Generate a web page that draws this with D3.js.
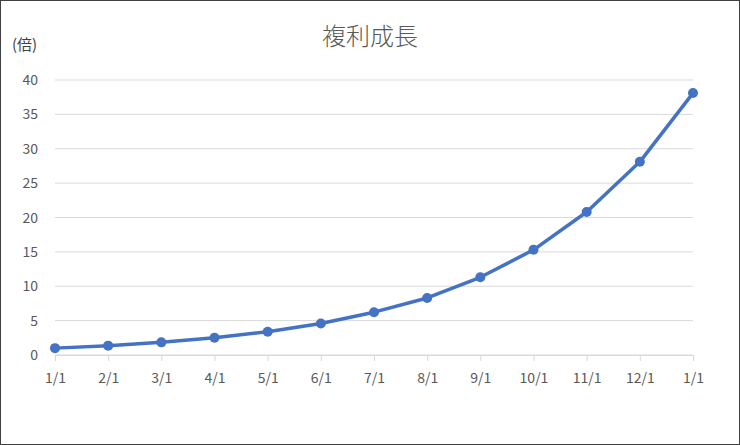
<!DOCTYPE html>
<html><head><meta charset="utf-8">
<script src="https://cdn.jsdelivr.net/npm/d3@7"></script>
<style>body{margin:0;background:#fff}</style>
</head><body>
<svg id="chart" width="740" height="445"></svg>
<script>
const labels = ["1/1","2/1","3/1","4/1","5/1","6/1","7/1","8/1","9/1","10/1","11/1","12/1","1/1 "];
const values = [1.0, 1.36, 1.84, 2.50, 3.39, 4.59, 6.23, 8.3, 11.3, 15.3, 20.8, 28.1, 38.1];
const yTicks = [0,5,10,15,20,25,30,35,40];

const svg = d3.select("#chart");
const font = "'Noto Sans CJK JP', 'Noto Sans', sans-serif";
svg.append("rect").attr("x",0.5).attr("y",0.5).attr("width",739).attr("height",444)
  .attr("fill","#fff").attr("stroke","#404040").attr("stroke-width",1);

const x = d3.scalePoint().domain(labels).range([55,693]);
const y = d3.scaleLinear().domain([0,40]).range([355,80]);

svg.append("g").selectAll("line").data(yTicks).join("line")
  .attr("x1",55).attr("x2",693).attr("y1",d=>y(d)).attr("y2",d=>y(d))
  .attr("stroke","#d9d9d9").attr("stroke-width",1);

svg.append("g").selectAll("text").data(yTicks).join("text")
  .attr("x",38).attr("y",d=>y(d)+5).attr("text-anchor","end")
  .attr("font-family",font).attr("font-size",14).attr("fill","#595959").text(d=>d);

const xa = svg.append("g").attr("transform","translate(0,355)")
  .call(d3.axisBottom(x).tickSize(6).tickPadding(12));
xa.select(".domain").attr("stroke","#d9d9d9");
xa.selectAll("line").attr("stroke","#d9d9d9");
xa.selectAll("text").attr("font-family",font).attr("font-size",14).attr("fill","#595959");

svg.append("path").datum(values)
  .attr("d", d3.line().x((d,i)=>x(labels[i])).y(d=>y(d)))
  .attr("fill","none").attr("stroke","#4472C4").attr("stroke-width",3.5)
  .attr("stroke-linejoin","round");

svg.append("g").selectAll("circle").data(values).join("circle")
  .attr("cx",(d,i)=>x(labels[i])).attr("cy",d=>y(d)).attr("r",5)
  .attr("fill","#4472C4");

svg.append("text").attr("x",370).attr("y",45).attr("text-anchor","middle")
  .attr("font-family",font).attr("font-size",24).attr("font-weight",300).attr("fill","#595959").text("複利成長");
svg.append("text").attr("x",12).attr("y",50)
  .attr("font-family",font).attr("font-size",15).attr("fill","#404040").text("(倍)");
</script>
</body></html>
